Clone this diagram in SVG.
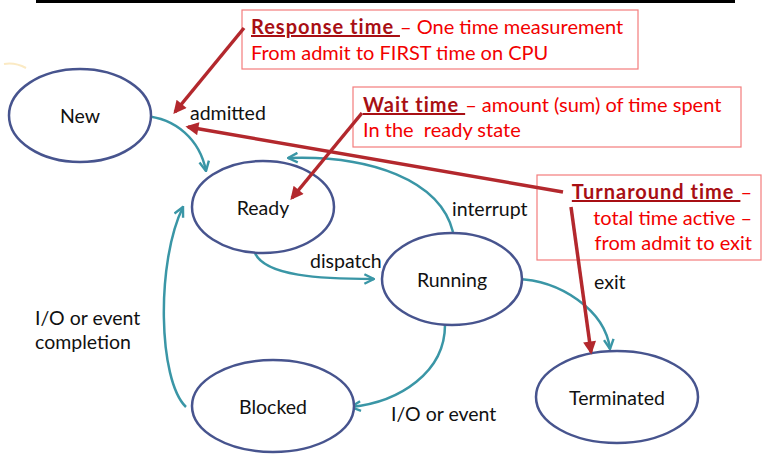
<svg xmlns="http://www.w3.org/2000/svg" width="781" height="455" viewBox="0 0 781 455">
<style>
.state ellipse{fill:#fff;stroke:#47548e;stroke-width:2.5}
.state text,.lbl{font-family:Lato,"Open Sans","Liberation Sans",sans-serif;font-size:19.5px;fill:#111}
.state text{text-anchor:middle}
.tr{fill:none;stroke:#3a96a6;stroke-width:2.5}
.ann{fill:none;stroke:#b3282d;stroke-width:3.5}
.box rect{fill:#fff;stroke:#f47c7c;stroke-width:1.2}
.box text{font-family:Lato,"Open Sans","Liberation Sans",sans-serif;font-size:20px;fill:#f20000}
.ttl{font-weight:bold;fill:#a80f14;text-decoration:underline;letter-spacing:1px}
</style>
<defs>
<marker id="teal" viewBox="0 0 10 10" refX="9" refY="5" markerWidth="12" markerHeight="12" markerUnits="userSpaceOnUse" orient="auto">
<path d="M1,1 L9,5 L1,9" fill="none" stroke="#3a96a6" stroke-width="2"/>
</marker>
<marker id="red" viewBox="0 0 10 10" refX="8" refY="5" markerWidth="16" markerHeight="13" markerUnits="userSpaceOnUse" orient="auto">
<path d="M0,0 L10,5 L0,10 z" fill="#b3282d"/>
</marker>
</defs>
<rect x="36" y="0" width="699" height="3" fill="#000"/>
<path d="M4,64 Q15,62 26,68" fill="none" stroke="#fbeac4" stroke-width="2"/>

<g id="connectors">
<path class="tr" d="M144,116 C176,118 200,140 206,171" marker-end="url(#teal)"/>
<path class="tr" d="M255,253 C265,276 320,279 374,279" marker-end="url(#teal)"/>
<path class="tr" d="M453,232 C440,180 370,155 288,158" marker-end="url(#teal)"/>
<path class="tr" d="M516,279 C560,280 605,310 610,349" marker-end="url(#teal)"/>
<path class="tr" d="M445,325 C445,372 400,402 351,407" marker-end="url(#teal)"/>
<path class="tr" d="M186,407 C158,380 156,262 183,207" marker-end="url(#teal)"/>
<text class="lbl" x="190" y="120">admitted</text>
<text class="lbl" x="452" y="216">interrupt</text>
<text class="lbl" x="310" y="268">dispatch</text>
<text class="lbl" x="594" y="289">exit</text>
<text class="lbl" x="391" y="421">I/O or event</text>
<text class="lbl" x="35" y="325">I/O or event</text>
<text class="lbl" x="35" y="349">completion</text>
</g>

<g id="new" class="state"><ellipse cx="80" cy="115.5" rx="71" ry="46.5"/><text x="80" y="123">New</text></g>
<g id="ready" class="state"><ellipse cx="263" cy="207" rx="71" ry="46"/><text x="263" y="215">Ready</text></g>
<g id="running" class="state"><ellipse cx="452" cy="279" rx="70" ry="46"/><text x="452" y="287">Running</text></g>
<g id="blocked" class="state"><ellipse cx="273" cy="406" rx="81" ry="46"/><text x="273" y="414">Blocked</text></g>
<g id="terminated" class="state"><ellipse cx="617" cy="397" rx="81" ry="46"/><text x="617" y="405">Terminated</text></g>

<g id="response-box" class="box">
<rect x="242" y="10" width="396" height="59"/>
<text x="251" y="34"><tspan class="ttl">Response time </tspan>– One time measurement</text>
<text x="251" y="60">From admit to FIRST time on CPU</text>
</g>
<g id="wait-box" class="box">
<rect x="353" y="87" width="388" height="60"/>
<text x="363" y="112"><tspan class="ttl">Wait time </tspan>– amount (sum) of time spent</text>
<text x="363" y="137" xml:space="preserve">In the  ready state</text>
</g>
<g id="turnaround-box" class="box">
<rect x="537" y="175" width="224" height="85"/>
<text x="752" y="199" text-anchor="end"><tspan class="ttl">Turnaround time </tspan>–</text>
<text x="752" y="225" text-anchor="end">total time active –</text>
<text x="752" y="250" text-anchor="end">from admit to exit</text>
</g>

<g id="annotations">
<path class="ann" d="M244,28 L175,112" marker-end="url(#red)"/>
<path class="ann" d="M362,113 L292,198" marker-end="url(#red)"/>
<path class="ann" d="M563,192 L188,127" marker-end="url(#red)"/>
<path class="ann" d="M571,207 L591,352" marker-end="url(#red)"/>
</g>
</svg>
